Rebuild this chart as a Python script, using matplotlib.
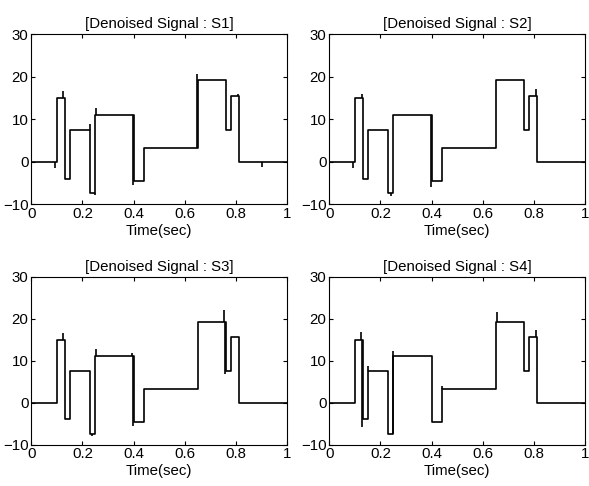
import numpy as np
import matplotlib
matplotlib.use("Agg")
import matplotlib.pyplot as plt

plt.rcParams['font.family'] = ['Liberation Sans', 'DejaVu Sans']

# %% Data
breaks = [0.0, 0.10, 0.13, 0.15, 0.23, 0.25, 0.40, 0.44, 0.65, 0.76, 0.78, 0.81, 1.0]
levels = [0.0, 15.0, -4.0, 7.5, -7.5, 11.0, -4.5, 3.3, 19.2, 7.5, 15.5, 0.0]

titles = ["[Denoised Signal : S1]", "[Denoised Signal : S2]",
          "[Denoised Signal : S3]", "[Denoised Signal : S4]"]

# overshoot spikes seen near the jumps, per panel
spike_t = [
    [0.092, 0.125, 0.228, 0.247, 0.252, 0.398, 0.648, 0.806, 0.90],
    [0.094, 0.126, 0.242, 0.398, 0.806],
    [0.123, 0.238, 0.253, 0.395, 0.398, 0.753, 0.758],
    [0.123, 0.128, 0.151, 0.248, 0.442, 0.655, 0.806],
]
spike_y = [
    [-1.5, 16.5, 8.8, -7.8, 12.5, -5.5, 20.5, 16.0, -1.2],
    [-1.5, 16.0, -8.0, -6.0, 17.0],
    [16.5, -8.0, 12.8, 11.8, -5.5, 22.0, 6.8],
    [16.8, -5.8, 8.8, 12.2, 4.0, 21.5, 17.3],
]

xticks = [0, 0.2, 0.4, 0.6, 0.8, 1]
xtick_labels = ["0", "0.2", "0.4", "0.6", "0.8", "1"]
yticks = [-10, 0, 10, 20, 30]

# %% Plot
fig = plt.figure(figsize=(5.89, 4.86), dpi=100)
positions = [
    [0.053, 0.580, 0.435, 0.350],
    [0.559, 0.580, 0.435, 0.350],
    [0.053, 0.085, 0.435, 0.346],
    [0.559, 0.085, 0.435, 0.346],
]

step_x = np.array(breaks)
step_y = np.array(levels + [levels[-1]])

for i in range(4):
    ax = fig.add_axes(positions[i])
    ax.step(step_x, step_y, where="post", color="black", linewidth=1.2)
    # spikes drawn from the local level to the peak value
    idx = np.searchsorted(step_x, spike_t[i], side="right") - 1
    base = np.array(levels)[np.clip(idx, 0, len(levels) - 1)]
    ax.vlines(spike_t[i], base, spike_y[i], color="black", linewidth=1.2)

    ax.set_xlim(0, 1)
    ax.set_ylim(-10, 30)
    ax.set_xticks(xticks)
    ax.set_xticklabels(xtick_labels)
    ax.set_yticks(yticks)
    ax.tick_params(direction="in", top=True, right=True, length=3,
                   labelsize=10.8, pad=2)
    for s in ax.spines.values():
        s.set_linewidth(0.8)
    ax.set_title(titles[i], fontsize=10.8, pad=4)
    ax.set_xlabel("Time(sec)", fontsize=10.8, labelpad=2)

fig.savefig("out.png", dpi=100)
